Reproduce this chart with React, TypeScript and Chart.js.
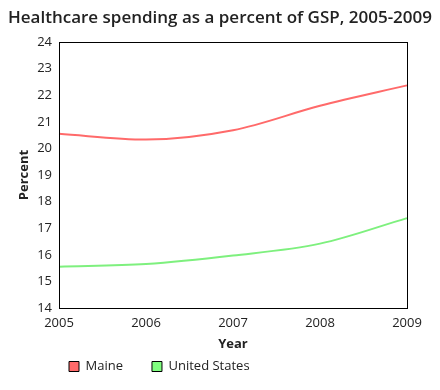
import React, { useEffect, useRef } from "react";
import { Chart, registerables } from "chart.js";

Chart.register(...registerables);

const years = ["2005", "2006", "2007", "2008", "2009"];
const maine = [20.55, 20.33, 20.68, 21.6, 22.37];
const unitedStates = [15.55, 15.65, 15.97, 16.42, 17.38];
const yTicks = [14, 15, 16, 17, 18, 19, 20, 21, 22, 23, 24];

const FONT = "'Open Sans', sans-serif";
const LEGEND_PAD = 29;

const frame = {
  id: "frame",
  afterLayout(chart: any) {
    const t = chart.titleBlock;
    if (t) {
      t.left = 0;
      t.right = chart.width;
      t.width = chart.width;
    }
    const lg = chart.legend;
    if (lg) {
      const rowTop = 352;
      lg.left = 61 - LEGEND_PAD;
      lg.top = rowTop - LEGEND_PAD;
      lg.bottom = lg.top + LEGEND_PAD + 20;
      lg.height = lg.bottom - lg.top;
      lg.width = lg.right - lg.left;
    }
  },
  afterDatasetsDraw(chart: any) {
    const { ctx, chartArea } = chart;
    ctx.save();
    ctx.strokeStyle = "#000";
    ctx.lineWidth = 1;
    ctx.strokeRect(
      Math.round(chartArea.left) + 0.5,
      Math.round(chartArea.top) + 0.5,
      Math.round(chartArea.right - chartArea.left),
      Math.round(chartArea.bottom - chartArea.top)
    );
    ctx.restore();
  },
};

export default function App() {
  const ref = useRef<HTMLCanvasElement | null>(null);
  useEffect(() => {
    if (!ref.current) return;
    const chart = new Chart(ref.current, {
      type: "line",
      data: {
        labels: years,
        datasets: [
          {
            label: "Maine",
            data: maine,
            borderColor: "#ff6a6a",
            backgroundColor: "#ff6a6a",
            borderWidth: 2,
            pointRadius: 0,
            cubicInterpolationMode: "monotone",
          },
          {
            label: "United States",
            data: unitedStates,
            borderColor: "#7ef07e",
            backgroundColor: "#80ff80",
            borderWidth: 2,
            pointRadius: 0,
            cubicInterpolationMode: "monotone",
          },
        ],
      },
      options: {
        animation: false,
        responsive: true,
        maintainAspectRatio: false,
        layout: { padding: { left: 0, right: 25, top: 0, bottom: 0 } },
        plugins: {
          title: {
            display: true,
            text: "Healthcare spending as a percent of GSP, 2005-2009",
            color: "#222",
            font: { family: FONT, size: 17, weight: "600" },
            padding: { top: 0, bottom: 13.6 },
          },
          legend: {
            position: "bottom",
            align: "start",
            maxHeight: 20,
            labels: {
              color: "#222",
              font: { family: FONT, size: 13 },
              boxWidth: 10,
              boxHeight: 10,
              padding: LEGEND_PAD,
              generateLabels: (chart: any) =>
                chart.data.datasets.map((ds: any, i: number) => ({
                  text: ds.label,
                  fillStyle: ds.backgroundColor,
                  strokeStyle: "#000",
                  lineWidth: 1,
                  datasetIndex: i,
                  fontColor: "#222",
                })),
            },
          },
          tooltip: { enabled: false },
        },
        scales: {
          x: {
            offset: false,
            afterFit: (s: any) => {
              s.height = 54;
            },
            grid: { display: false, drawTicks: false },
            border: { display: false },
            ticks: { color: "#222", font: { family: FONT, size: 13 }, padding: 7, maxRotation: 0 },
            title: {
              display: true,
              text: "Year",
              color: "#222",
              font: { family: FONT, size: 13, weight: "bold" },
              padding: { top: 0, bottom: 10 },
            },
          },
          y: {
            min: 14,
            max: 24,
            afterFit: (s: any) => {
              s.width = 51;
            },
            afterBuildTicks: (axis: any) => {
              axis.ticks = yTicks.map((v) => ({ value: v }));
            },
            grid: { display: false, drawTicks: false },
            border: { display: false },
            ticks: { color: "#222", font: { family: FONT, size: 13 }, padding: 7 },
            title: {
              display: true,
              text: "Percent",
              color: "#222",
              font: { family: FONT, size: 13, weight: "bold" },
              padding: { top: 8.7, bottom: 0 },
            },
          },
        },
      },
      plugins: [frame],
    });
    return () => chart.destroy();
  }, []);
  return (
    <div style={{ width: 424, height: 374, position: "relative" }}>
      <canvas ref={ref} />
    </div>
  );
}
